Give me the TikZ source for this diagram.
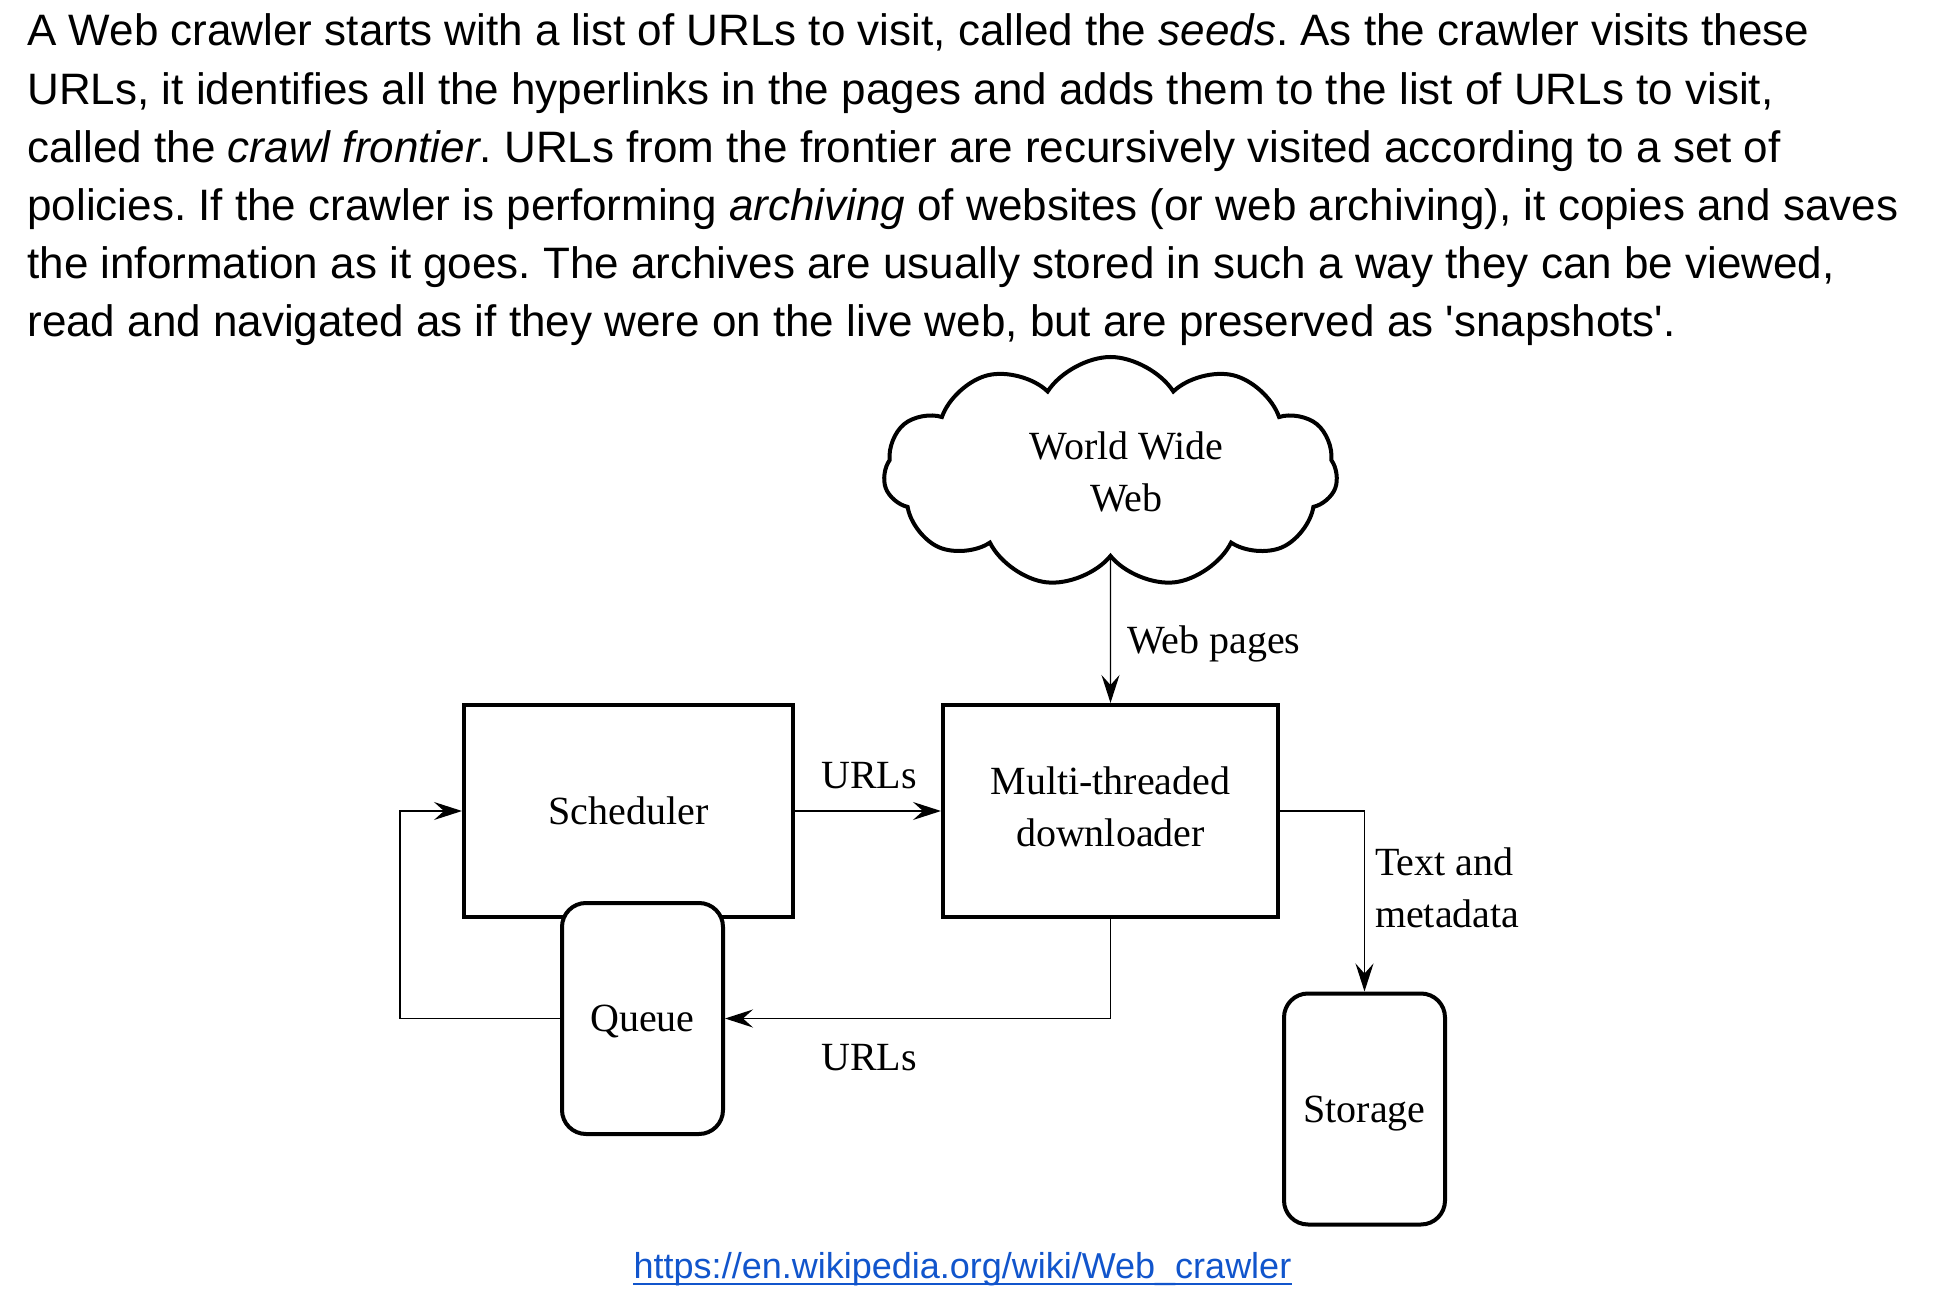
\documentclass[tikz,border=0pt]{standalone}
\usepackage{fontspec}
\setmainfont{Liberation Serif}
\newfontfamily\parafont{Liberation Sans}
\usetikzlibrary{arrows.meta,positioning,shapes.symbols}
\definecolor{linkblue}{HTML}{1155CC}
\frenchspacing

\begin{document}
\begin{tikzpicture}[x=0.5pt,y=-0.5pt,
  para/.style={anchor=base west,inner sep=0pt,font=\parafont\fontsize{22}{26}\selectfont},
  box/.style={draw,line width=2pt,minimum height=106pt,align=center,font=\fontsize{20}{26}\selectfont},
  store/.style={draw,line width=2pt,rounded corners=12pt,fill=white,minimum width=80.5pt,minimum height=115.5pt,text depth=0pt,font=\fontsize{20}{26}\selectfont},
  conn/.style={-{Stealth[length=14pt,width=9pt,inset=5pt]},line width=0.7pt},
  lbl/.style={align=left,font=\fontsize{20}{26}\selectfont},
  link/.style={anchor=base,inner sep=0pt,text=linkblue,font=\parafont\fontsize{18}{22}\selectfont}]
\useasboundingbox (0,0) rectangle (1944,1304);

% text above the picture
\node[para] (p1) at (27,46) {A Web crawler starts with a list of URLs to visit, called the \textit{seeds}. As the crawler visits these};
\node[para] (p2) at (27,104.2) {URLs, it identifies all the hyperlinks in the pages and adds them to the list of URLs to visit,};
\node[para] (p3) at (27,162.4) {called the \textit{crawl frontier}. URLs from the frontier are recursively visited according to a set of};
\node[para] (p4) at (27,220.6) {policies. If the crawler is performing \textit{archiving} of websites (or web archiving), it copies and saves};
\node[para] (p5) at (27,278.8) {the information as it goes. The archives are usually stored in such a way they can be viewed,};
\node[para] (p6) at (27,337) {read and navigated as if they were on the live web, but are preserved as \textquotesingle snapshots\textquotesingle.};

% boxes
\node[box,minimum width=164.5pt] (sched) at (628.5,811) {Scheduler};
\node[box,minimum width=167.5pt] (down) [right=73pt of sched] {Multi-threaded\\downloader\vphantom{g}};
\node[cloud,draw,line width=2pt,cloud puffs=11,cloud puff arc=115,cloud ignores aspect,
  minimum width=227pt,minimum height=115pt] (web) at (1110.5,472) {};
\node[lbl,align=center] (wwtxt) at ([xshift=8pt]web.center) {World Wide\\Web};
\node[store] (queue) at (642.5,1018.5) {Queue};
\node[store] (disk) at (1364.5,1109) {Storage};
\coordinate (loop) at (400,1018.5);

% connectors
\draw[conn] (web) -- (down);
\draw[conn] (sched) -- (down);
\draw[conn] (down.south) |- (queue.east);
\draw[conn] (queue.west) -- (loop) |- (sched.west);
\draw[conn] (down.east) -| (disk.north);

% labels
\node[lbl,anchor=west] (wp) at (1120,644) {Web pages};
\node[lbl] (u1) at (869,776) {URLs};
\node[lbl] (u2) at (869,1058) {URLs};
\node[lbl,anchor=west] (tm) at (1368,888) {Text and\\metadata};

% source link
\node[link] (src) at (962.5,1278) {https://en.wikipedia.org/wiki/Web\_crawler};
\draw[linkblue,line width=1.2pt] ([yshift=-3pt]src.base west) -- ([yshift=-3pt]src.base east);
\end{tikzpicture}
\end{document}
